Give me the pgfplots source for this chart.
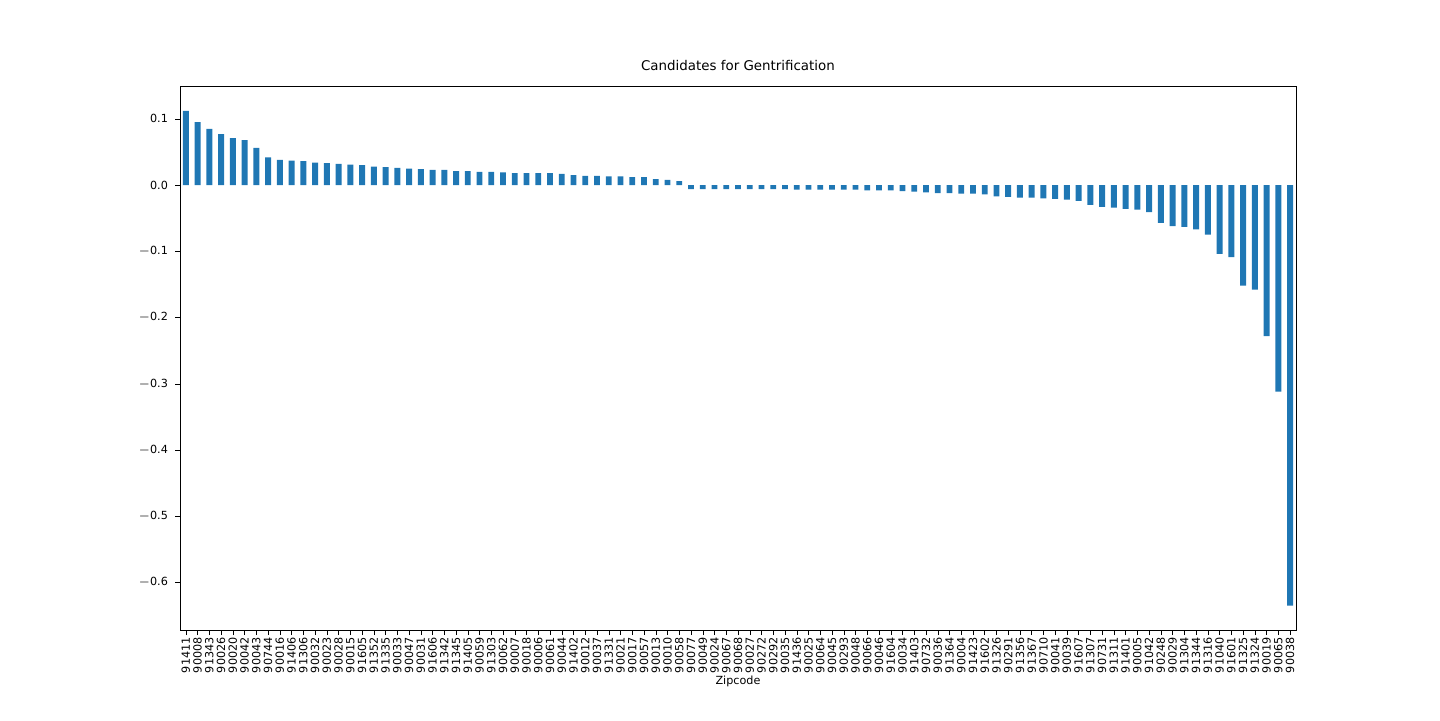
\documentclass[border=0pt]{standalone}
\usepackage{pgfplots}
\pgfplotsset{compat=1.18}
\usepackage{fontspec}
\setmainfont{DejaVu Sans}
\definecolor{mplblue}{HTML}{1F77B4}
\begin{document}
\begin{tikzpicture}
\path (0,0) rectangle (720pt,360pt);
\begin{axis}[at={(90pt,45pt)},anchor=south west,scale only axis,width=558pt,height=272pt,
 xmin=-0.5,xmax=94.5,ymin=-0.672,ymax=0.1496,
 xtick={0,...,94},
 xticklabels={91411,90008,91343,90026,90020,90042,90043,90744,90016,91406,91306,90032,90023,90028,90015,91605,91352,91335,90033,90047,90031,91606,91342,91345,91405,90059,91303,90062,90007,90018,90006,90061,90044,91402,90012,90037,91331,90021,90017,90057,90013,90010,90058,90077,90049,90024,90067,90068,90027,90272,90292,90035,91436,90025,90064,90045,90293,90048,90066,90046,91604,90034,91403,90732,90036,91364,90004,91423,91602,91326,90291,91356,91367,90710,90041,90039,91607,91307,90731,91311,91401,90005,91042,90248,90029,91304,91344,91316,91040,91601,91325,91324,90019,90065,90038},
 xticklabel style={rotate=90,anchor=east,font=\fontsize{5.6}{6}\selectfont,inner sep=1pt},
 ytick={-0.6,-0.5,-0.4,-0.3,-0.2,-0.1,0,0.1},
 yticklabels={$-$0.6,$-$0.5,$-$0.4,$-$0.3,$-$0.2,$-$0.1,0.0,0.1},
 yticklabel style={font=\fontsize{5.6}{6}\selectfont},
 tick align=outside,tick style={black,major tick length=2.5pt},
 xtick pos=bottom,ytick pos=left,
 xlabel={Zipcode},xlabel style={font=\fontsize{5.6}{6}\selectfont,yshift=3pt},
 title={Candidates for Gentrification},title style={font=\fontsize{6.7}{7}\selectfont,yshift=-2pt},
 axis line style={black,line width=0.4pt}]
\addplot[ybar,bar width=0.5,fill=mplblue,draw=none] coordinates {
(0,0.112)(1,0.095)(2,0.085)(3,0.077)(4,0.071)(5,0.068)(6,0.056)(7,0.042)(8,0.038)(9,0.037)
(10,0.036)(11,0.034)(12,0.033)(13,0.032)(14,0.031)(15,0.030)(16,0.028)(17,0.027)(18,0.026)(19,0.025)
(20,0.024)(21,0.023)(22,0.023)(23,0.021)(24,0.021)(25,0.020)(26,0.020)(27,0.019)(28,0.018)(29,0.018)
(30,0.018)(31,0.018)(32,0.017)(33,0.015)(34,0.014)(35,0.014)(36,0.013)(37,0.013)(38,0.012)(39,0.012)
(40,0.009)(41,0.008)(42,0.006)(43,-0.006)(44,-0.006)(45,-0.006)(46,-0.006)(47,-0.006)(48,-0.006)(49,-0.006)
(50,-0.006)(51,-0.006)(52,-0.007)(53,-0.007)(54,-0.007)(55,-0.007)(56,-0.007)(57,-0.007)(58,-0.008)(59,-0.008)
(60,-0.008)(61,-0.009)(62,-0.010)(63,-0.011)(64,-0.012)(65,-0.012)(66,-0.013)(67,-0.013)(68,-0.014)(69,-0.017)
(70,-0.018)(71,-0.019)(72,-0.019)(73,-0.020)(74,-0.021)(75,-0.022)(76,-0.024)(77,-0.030)(78,-0.033)(79,-0.034)
(80,-0.036)(81,-0.037)(82,-0.041)(83,-0.057)(84,-0.062)(85,-0.063)(86,-0.067)(87,-0.075)(88,-0.104)(89,-0.109)
(90,-0.152)(91,-0.158)(92,-0.228)(93,-0.312)(94,-0.635)};
\end{axis}
\end{tikzpicture}
\end{document}
